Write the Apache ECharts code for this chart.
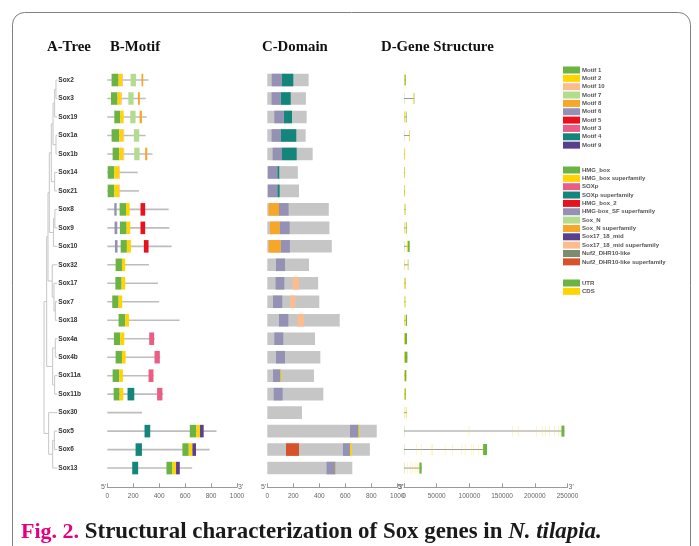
<!DOCTYPE html>
<html><head><meta charset="utf-8">
<script src="https://cdn.jsdelivr.net/npm/echarts@6/dist/echarts.min.js"></script>
<style>html,body{margin:0;padding:0;background:#fff}#c{width:699px;height:546px}</style>
</head><body><div id="c"></div>
<script>
// ---------- DATA ----------
const genes = ['Sox2','Sox3','Sox19','Sox1a','Sox1b','Sox14','Sox21','Sox8','Sox9','Sox10','Sox32','Sox17','Sox7','Sox18','Sox4a','Sox4b','Sox11a','Sox11b','Sox30','Sox5','Sox6','Sox13'];
const proteinLength = [318,297,303,295,349,235,244,473,478,496,321,391,400,557,367,408,359,431,267,842,789,654];

// motifs: [geneIndex, start, end] (aa)
const motif1 = [[0,33,87],[1,28,79],[2,54,100],[3,33,92],[4,41,92],[5,3,54],[6,3,54],[7,95,144],[8,97,149],[9,103,151],[10,64,113],[11,62,110],[12,38,87],[13,87,138],[14,51,100],[15,64,113],[16,41,92],[17,49,95],[19,636,687],[20,579,628],[21,456,502]];
const motif2 = [[0,87,113],[1,79,105],[2,100,126],[3,92,123],[4,92,123],[5,54,90],[6,54,90],[7,144,172],[8,149,177],[9,151,182],[10,113,138],[11,110,138],[12,87,115],[13,138,167],[14,100,131],[15,113,141],[16,92,120],[17,95,123],[19,687,715],[20,628,656],[21,502,530]];
const motif10 = [[0,113,120],[1,105,112],[3,123,130],[4,123,130],[5,90,96],[6,90,96]];
const motif7 = [[0,180,221],[1,162,203],[2,177,218],[3,205,246],[4,208,249]];
const motif8 = [[0,264,277],[1,236,251],[2,249,267],[4,292,308]];
const motif6 = [[7,54,72],[8,56,77],[9,59,79]];
const motif5 = [[7,256,292],[8,256,292],[9,282,318]];
const motif3 = [[14,323,361],[15,364,405],[16,318,356],[17,384,425]];
const motif4 = [[17,156,208],[19,287,331],[20,218,267],[21,192,238]];
const motif9 = [[19,715,743],[20,656,684],[21,530,559]];

// domains: [geneIndex, start, end]
const domHmgSF = [[0,34,111],[1,33,103],[2,54,126],[3,33,105],[4,41,113],[5,5,77],[6,5,77],[7,90,164],[8,95,172],[9,103,174],[10,67,136],[11,64,131],[12,44,115],[13,90,162],[14,54,123],[15,67,136],[16,44,100],[17,49,118],[19,636,700],[20,582,636],[21,456,523]];
const domSoxpSF = [[0,111,200],[1,103,180],[2,126,190],[3,105,223],[4,113,226],[5,77,92],[6,77,95]];
const domSoxNSF = [[7,10,90],[8,20,95],[9,10,103]];
const domMidSF = [[11,195,244],[12,177,215],[13,233,282]];
const domHmgBoxSF = [[16,100,108],[19,700,708],[20,636,649],[21,523,527]];
const domNuf2SF = [[20,144,244]];

// gene structure (bp)
const geneLength = [2600,15800,3900,9200,1600,1400,1500,2300,4200,8700,6600,2700,2100,4600,4600,5200,3600,2600,4500,245300,127000,27000];
const utrExons = [[0,0,400],[0,1350,2600],[1,0,300],[1,15200,15800],[2,0,300],[2,2900,3900],[3,0,300],[3,8800,9200],[4,0,200],[4,1250,1600],[5,0,100],[5,830,1400],[6,0,150],[6,900,1500],[7,0,250],[7,1800,2300],[8,0,300],[8,3300,4200],[9,0,300],[9,5600,8700],[10,0,200],[10,6100,6600],[11,0,300],[11,2100,2700],[12,0,200],[12,1700,2100],[13,0,300],[13,2900,4600],[14,0,400],[14,1500,4600],[15,0,300],[15,1550,5200],[16,0,300],[16,1400,3600],[17,0,200],[17,1500,2600],[18,0,150],[18,4200,4500],[19,0,300],[19,240700,245300],[20,0,300],[20,120900,127000],[21,0,300],[21,23500,27000]];
const cdsExons = [[0,400,1350],[1,14300,15200],[2,300,1200],[2,2500,2900],[3,8000,8800],[4,200,1250],[5,100,830],[6,150,900],[7,250,700],[7,1000,1300],[7,1500,1800],[8,300,800],[8,1800,2100],[8,2800,3300],[9,3000,3400],[9,4700,5600],[10,200,600],[10,5500,6100],[11,300,1000],[11,1500,2100],[12,200,900],[12,1300,1700],[13,300,1000],[13,2200,2900],[14,400,1500],[15,300,1550],[16,300,1400],[17,200,1500],[18,1200,1500],[18,2300,2600],[18,3300,3700],
 [19,99300,99650],[19,165600,165950],[19,174800,175150],[19,202900,203250],[19,212000,212350],[19,215600,215950],[19,221700,222050],[19,229900,230250],[19,236000,236350],[19,240350,240700],
 [20,19300,19650],[20,25900,26250],[20,41200,41550],[20,43700,44050],[20,62600,62950],[20,74300,74650],[20,88100,88450],[20,93200,93550],[20,102400,102750],[20,105900,106250],[20,113600,113950],[20,120550,120900],
 [21,5000,5350],[21,9100,9450],[21,12600,12950],[21,16700,17050],[21,19800,20150],[21,23150,23500]];

// tree: [node, depth (0 root .. 1 leaves), children]
const treeNodes = [
 ['n1',0.9,['Sox2','Sox3']],['n2',0.8,['n1','Sox19']],['n3',0.9,['Sox1a','Sox1b']],['n4',0.68,['n2','n3']],
 ['n5',0.8,['Sox14','Sox21']],['n6',0.55,['n4','n5']],['n7',0.82,['Sox8','Sox9']],['n8',0.72,['n7','Sox10']],
 ['n9',0.4,['n6','n8']],['n10',0.85,['Sox7','Sox18']],['n11',0.75,['Sox17','n10']],['n12',0.62,['Sox32','n11']],
 ['n13',0.3,['n9','n12']],['n14',0.85,['Sox4a','Sox4b']],['n15',0.8,['Sox11a','Sox11b']],['n16',0.65,['n14','n15']],
 ['n17',0.2,['n13','n16']],['n18',0.78,['Sox5','Sox6']],['n19',0.65,['n18','Sox13']],['n20',0.35,['Sox30','n19']],
 ['root',0.0,['n17','n20']]
];

// ---------- BUILD ----------
const pos = {};
genes.forEach((g,i)=>{pos[g]={x:1,y:i};});
const treeEdges = [];
treeNodes.forEach(([n,d,ch])=>{
  const ys = ch.map(c=>pos[c].y);
  const y = (ys[0]+ys[ys.length-1])/2;
  pos[n] = {x:d,y:y};
  treeEdges.push([d,ys[0],d,ys[ys.length-1]]);
  ch.forEach(c=>treeEdges.push([d,pos[c].y,pos[c].x,pos[c].y]));
});

const TOP = 70.8, H = 406.5;
const grids = [
  {left:44, width:13.3, top:TOP, height:H},
  {left:107.3, width:129.7, top:TOP, height:H},
  {left:267.3, width:130, top:TOP, height:H},
  {left:404, width:163.5, top:TOP, height:H}
];
const FONT = 'Liberation Sans';
function mainAxis(g, max, interval){
  return {gridIndex:g, type:'value', min:0, max:max, interval:interval, position:'bottom', offset:10,
    axisLine:{show:true, onZero:false, lineStyle:{color:'#9a9a9a', width:1}},
    axisTick:{show:true, inside:true, length:4, lineStyle:{color:'#9a9a9a'}},
    axisLabel:{fontSize:6.5, color:'#666', margin:5, fontFamily:FONT, showMinLabel:true, showMaxLabel:true,
      formatter:function(v){return String(v);}},
    splitLine:{show:false},
    name:"3'", nameLocation:'end', nameGap:1, nameTextStyle:{fontSize:7, color:'#666', fontFamily:FONT, padding:[0,0,3,0]}};
}
function startAxis(g, max){
  return {gridIndex:g, type:'value', min:0, max:max, position:'bottom', offset:10,
    axisLine:{show:false, onZero:false}, axisTick:{show:false}, axisLabel:{show:false}, splitLine:{show:false},
    name:"5'", nameLocation:'start', nameGap:1, nameTextStyle:{fontSize:7, color:'#666', fontFamily:FONT, padding:[0,0,3,0]}};
}
const xAxis = [
  {gridIndex:0, type:'value', min:0, max:1, show:false},
  mainAxis(1,1000,200), startAxis(1,1000),
  mainAxis(2,1000,200), startAxis(2,1000),
  mainAxis(3,250000,50000), startAxis(3,250000)
];
const yAxis = [0,1,2,3].map(g=>({gridIndex:g, type:'value', min:-0.5, max:21.5, inverse:true, show:false}));
yAxis.push({gridIndex:0, type:'category', data:genes, inverse:true, position:'right',
  axisLine:{show:false}, axisTick:{show:false}, splitLine:{show:false},
  axisLabel:{fontSize:6.5, fontWeight:'bold', color:'#333', margin:1, fontFamily:FONT}});

function rectRender(frac, fixedH){
  return function(params, api){
    const r = api.value(0);
    const p1 = api.coord([api.value(1), r]);
    const p2 = api.coord([api.value(2), r]);
    const h = fixedH || api.size([0,1])[1]*frac;
    return {type:'rect', shape:{x:p1[0], y:p1[1]-h/2, width:p2[0]-p1[0], height:h},
      style:{fill:api.visual('color')}};
  };
}
function rectSeries(name, data, grid, color, frac, fixedH){
  return {type:'custom', name:name, xAxisIndex:[0,1,3,5][grid], yAxisIndex:grid, data:data,
    itemStyle:{color:color}, renderItem:rectRender(frac, fixedH), encode:{x:[1,2], y:0},
    silent:true, animation:false};
}
const C = {
  m1:'#6ab344', m2:'#ffd400', m10:'#fdbc8e', m7:'#b3dc8e', m8:'#f7a628', m6:'#9591b5',
  m5:'#e8121f', m3:'#ea5e85', m4:'#14857a', m9:'#5a3f8e', nuf:'#7d8b6e', nufSF:'#d6522b'
};
const series = [];
// tree
series.push({type:'custom', xAxisIndex:0, yAxisIndex:0, data:treeEdges, silent:true, animation:false,
  encode:{x:[0,2], y:[1,3]},
  renderItem:function(params, api){
    const a = api.coord([api.value(0), api.value(1)]);
    const b = api.coord([api.value(2), api.value(3)]);
    return {type:'line', shape:{x1:a[0],y1:a[1],x2:b[0],y2:b[1]}, style:{stroke:'#c6c6c6', lineWidth:1}};
  }});
// motif panel
series.push(rectSeries('protein', proteinLength.map((l,i)=>[i,0,l]), 1, '#bdbdbd', 0, 1.6));
series.push(rectSeries('Motif 1', motif1, 1, C.m1, 0.68));
series.push(rectSeries('Motif 2', motif2, 1, C.m2, 0.68));
series.push(rectSeries('Motif 10', motif10, 1, C.m10, 0.68));
series.push(rectSeries('Motif 7', motif7, 1, C.m7, 0.68));
series.push(rectSeries('Motif 8', motif8, 1, C.m8, 0.68));
series.push(rectSeries('Motif 6', motif6, 1, C.m6, 0.68));
series.push(rectSeries('Motif 5', motif5, 1, C.m5, 0.68));
series.push(rectSeries('Motif 3', motif3, 1, C.m3, 0.68));
series.push(rectSeries('Motif 4', motif4, 1, C.m4, 0.68));
series.push(rectSeries('Motif 9', motif9, 1, C.m9, 0.68));
// domain panel
series.push(rectSeries('domainBar', proteinLength.map((l,i)=>[i,0,l]), 2, '#c6c6c6', 0.68));
series.push(rectSeries('HMG_box', [], 2, C.m1, 0.68));
series.push(rectSeries('HMG_box superfamily', domHmgBoxSF, 2, C.m2, 0.68));
series.push(rectSeries('SOXp', [], 2, C.m3, 0.68));
series.push(rectSeries('SOXp superfamily', domSoxpSF, 2, C.m4, 0.68));
series.push(rectSeries('HMG_box_2', [], 2, C.m5, 0.68));
series.push(rectSeries('HMG-box_SF superfamily', domHmgSF, 2, C.m6, 0.68));
series.push(rectSeries('Sox_N', [], 2, C.m7, 0.68));
series.push(rectSeries('Sox_N superfamily', domSoxNSF, 2, C.m8, 0.68));
series.push(rectSeries('Sox17_18_mid', [], 2, C.m9, 0.68));
series.push(rectSeries('Sox17_18_mid superfamily', domMidSF, 2, C.m10, 0.68));
series.push(rectSeries('Nuf2_DHR10-like', [], 2, C.nuf, 0.68));
series.push(rectSeries('Nuf2_DHR10-like superfamily', domNuf2SF, 2, C.nufSF, 0.68));
// gene structure
series.push(rectSeries('intron', geneLength.map((l,i)=>[i,0,l]), 3, '#9a9a9a', 0, 1));
series.push(rectSeries('UTR', utrExons, 3, C.m1, 0.6));
series.push(rectSeries('CDS', cdsExons, 3, C.m2, 0.6));

const legBase = {orient:'vertical', left:563, itemWidth:17, itemHeight:7, itemGap:1.35, icon:'rect',
  selectedMode:false, padding:0,
  textStyle:{fontSize:6, lineHeight:7, color:'#555', fontWeight:'bold', fontFamily:FONT, padding:[0,0,0,-3]}};
const legend = [
  Object.assign({}, legBase, {top:66.5, data:['Motif 1','Motif 2','Motif 10','Motif 7','Motif 8','Motif 6','Motif 5','Motif 3','Motif 4','Motif 9']}),
  Object.assign({}, legBase, {top:166.5, data:['HMG_box','HMG_box superfamily','SOXp','SOXp superfamily','HMG_box_2','HMG-box_SF superfamily','Sox_N','Sox_N superfamily','Sox17_18_mid','Sox17_18_mid superfamily','Nuf2_DHR10-like','Nuf2_DHR10-like superfamily']}),
  Object.assign({}, legBase, {top:279.5, data:['UTR','CDS']})
];
const tStyle = {fontFamily:'Liberation Serif', fontWeight:'bold', fontSize:14.8, color:'#111'};
const title = [
  {text:'A-Tree', left:47, top:39.5, padding:0, textStyle:tStyle},
  {text:'B-Motif', left:110, top:39.5, padding:0, textStyle:tStyle},
  {text:'C-Domain', left:262, top:39.5, padding:0, textStyle:tStyle},
  {text:'D-Gene Structure', left:381, top:39.5, padding:0, textStyle:tStyle},
  {text:'{a|Fig. 2.}{b| Structural characterization of Sox genes in }{c|N. tilapia.}', left:21, top:521, padding:0,
   textStyle:{rich:{
     a:{fontFamily:'Liberation Serif', fontWeight:'bold', fontSize:22, color:'#e4007f'},
     b:{fontFamily:'Liberation Serif', fontSize:22.9, color:'#1a1a1a'},
     c:{fontFamily:'Liberation Serif', fontStyle:'italic', fontSize:22.9, color:'#1a1a1a'}}}}
];
const chart = echarts.init(document.getElementById('c'), null, {renderer:'canvas'});
chart.setOption({
  animation:false, backgroundColor:'#fff',
  title:title, legend:legend, grid:grids, xAxis:xAxis, yAxis:yAxis, series:series,
  graphic:[{type:'rect', silent:true, z:-10, shape:{x:12.5, y:12.5, width:678, height:600, r:12},
    style:{fill:'none', stroke:'#808080', lineWidth:1}}]
});
</script></body></html>
